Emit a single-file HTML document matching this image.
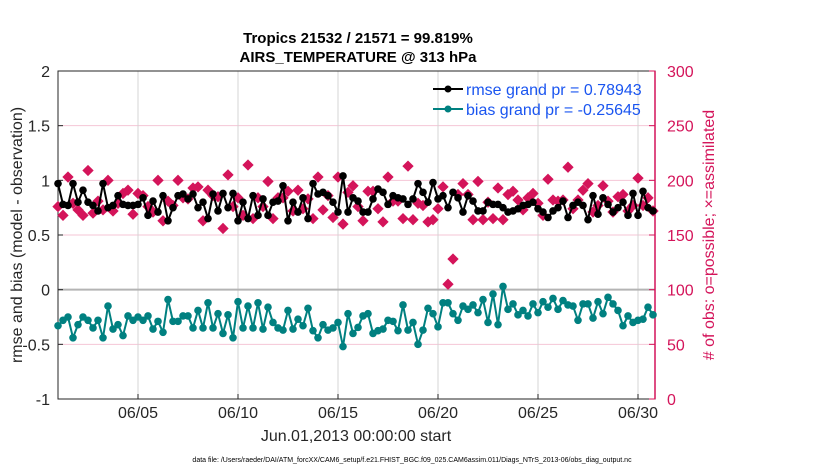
<!DOCTYPE html>
<html><head><meta charset="utf-8"><style>
body{margin:0;background:#fff;}
svg{display:block;font-family:"Liberation Sans",sans-serif;}
</style></head><body>
<svg id="chart" width="830" height="470">
<g id="grid"></g>
<g id="axes"></g>
<g id="series"></g>
<text x="358" y="43" text-anchor="middle" font-size="15" font-weight="bold">Tropics 21532 / 21571 = 99.819%</text>
<text x="358" y="62" text-anchor="middle" font-size="15" font-weight="bold">AIRS_TEMPERATURE @ 313 hPa</text>
<text x="356" y="441" text-anchor="middle" font-size="16" fill="#262626">Jun.01,2013 00:00:00 start</text>
<text transform="translate(22,235) rotate(-90)" text-anchor="middle" font-size="16" fill="#262626">rmse and bias (model - observation)</text>
<text transform="translate(714,235) rotate(-90)" text-anchor="middle" font-size="16" fill="#d4145a"># of obs: o=possible; ×=assimilated</text>
<text x="412" y="462" text-anchor="middle" font-size="7" fill="#000">data file: /Users/raeder/DAI/ATM_forcXX/CAM6_setup/f.e21.FHIST_BGC.f09_025.CAM6assim.011/Diags_NTrS_2013-06/obs_diag_output.nc</text>
<g>
<line x1="433" y1="89" x2="463" y2="89" stroke="#000" stroke-width="2"/><circle cx="448" cy="89" r="3.5" fill="#000"/>
<text x="466" y="95" font-size="16" fill="#1a55f0">rmse grand pr = 0.78943</text>
<line x1="433" y1="109" x2="463" y2="109" stroke="#008080" stroke-width="2"/><circle cx="448" cy="109" r="3.5" fill="#008080"/>
<text x="466" y="115" font-size="16" fill="#1a55f0">bias grand pr = -0.25645</text>
</g>
</svg>
<script>
const rmse=[.97,.78,.77,.97,.80,.91,.80,.77,.72,.97,.75,.77,.86,.78,.77,.77,.78,.84,.68,.81,.71,.86,.63,.75,.86,.875,.83,.875,.75,.80,.65,.875,.72,.88,.75,.88,.63,.80,.65,.86,.68,.83,.68,.80,.81,.95,.63,.80,.71,.84,.65,.97,.875,.89,.86,.80,.71,1.04,.71,.84,.81,.71,
.71,.83,.92,.89,.78,.86,.84,.83,.78,.83,.97,.89,.80,.98,.83,.86,.75,.89,.84,.71,.86,.81,.72,.72,.80,.78,.78,.75,.71,.72,.74,.77,.78,.80,.74,.71,.66,.72,.75,.81,.66,.77,.80,.77,.64,.86,.69,.84,.78,.71,.75,.80,.68,.88,.68,.90,.75,.72];
const bias=[-.33,-.28,-.25,-.44,-.32,-.25,-.28,-.35,-.28,-.44,-.15,-.36,-.32,-.42,-.24,-.28,-.25,-.28,-.24,-.36,-.29,-.39,-.09,-.29,-.29,-.24,-.24,-.35,-.19,-.35,-.12,-.35,-.22,-.40,-.23,-.44,-.11,-.35,-.15,-.35,-.12,-.36,-.16,-.30,-.35,-.37,-.19,-.36,-.27,-.33,-.17,-.375,-.44,-.32,-.37,-.35,-.30,-.52,-.22,-.40,-.345,-.24,
-.22,-.40,-.375,-.36,-.28,-.29,-.375,-.14,-.37,-.30,-.50,-.37,-.17,-.22,-.34,-.12,-.12,-.22,-.28,-.15,-.18,-.14,-.21,-.09,-.30,-.04,-.32,.03,-.18,-.13,-.23,-.19,-.24,-.13,-.21,-.11,-.16,-.08,-.18,-.10,-.14,-.15,-.28,-.13,-.13,-.26,-.11,-.22,-.07,-.13,-.19,-.33,-.24,-.30,-.28,-.27,-.16,-.23];
const counts=[176,168,203,179,173,168,209,170,181,173,200,172,179,188,191,169,188,186,176,171,200,163,181,177,200,184,183,193,194,163,191,186,185,156,205,176,184,168,214,165,184,176,199,165,184,184,190,172,191,174,183,165,203,173,186,166,203,160,189,195,176,163,
190,190,174,162,203,181,181,165,213,164,179,177,162,164,174,194,105,128,187,197,187,164,199,164,180,165,193,164,187,190,182,173,184,188,179,168,201,182,181,182,212,174,182,191,197,171,177,195,181,171,185,187,172,177,202,177,184,172];
const xTickDays=[4,9,14,19,24,29];
const xTickLabels=["06/05","06/10","06/15","06/20","06/25","06/30"];
const yTicks=[2,1.5,1,0.5,0,-0.5,-1];
const yTickLabels=["2","1.5","1","0.5","0","-0.5","-1"];
const rTicks=[300,250,200,150,100,50,0];
const stepDays=0.25;
const NS="http://www.w3.org/2000/svg";
const L=58,R=655,T=71,B=399;
const xs=d=>L+d*20;
const yl=v=>B-(v+1)/3*(B-T);
const yr=c=>B-c/300*(B-T);
function mk(p,tag,a){const e=document.createElementNS(NS,tag);for(const k in a)e.setAttribute(k,a[k]);p.appendChild(e);return e;}
const grid=document.getElementById('grid'),axes=document.getElementById('axes'),ser=document.getElementById('series');
rTicks.forEach(c=>{if(c>0&&c<300&&c!==100){const g=mk(grid,'line',{x1:L,x2:R,y1:yr(c),y2:yr(c),stroke:'#f5c6d6','stroke-width':1});

}});
xTickDays.forEach((d,i)=>{const g=mk(grid,'line',{x1:xs(d),x2:xs(d),y1:T,y2:B,stroke:'#d4d4d4','stroke-width':1});


const t=mk(axes,'text',{x:xs(d),y:418,'text-anchor':'middle','font-size':16,fill:'#262626'});t.textContent=xTickLabels[i];


mk(axes,'line',{x1:xs(d),x2:xs(d),y1:B,y2:B-5,stroke:'#262626'});});
const z=mk(grid,'line',{x1:L,x2:R,y1:yl(0),y2:yl(0),stroke:'#b4b4b4','stroke-width':2});


mk(axes,'rect',{x:L,y:T,width:R-L,height:B-T,fill:'none',stroke:'#262626','stroke-width':1});
mk(axes,'line',{x1:R,x2:R,y1:T,y2:B,stroke:'#d4145a','stroke-width':1.5});
yTicks.forEach((v,i)=>{mk(axes,'line',{x1:L,x2:L+5,y1:yl(v),y2:yl(v),stroke:'#262626'});
const t=mk(axes,'text',{x:L-8,y:yl(v)+6,'text-anchor':'end','font-size':16,fill:'#262626'});t.textContent=yTickLabels[i];

});
rTicks.forEach(c=>{mk(axes,'line',{x1:R,x2:R-6,y1:yr(c),y2:yr(c),stroke:'#d4145a'});
const t=mk(axes,'text',{x:R+12,y:yr(c)+6,'font-size':16,fill:'#d4145a'});t.textContent=String(c);

});
counts.forEach((c,i)=>{const x=xs(i*stepDays),y=yr(c);
const d=mk(ser,'rect',{x:x-4,y:y-4,width:8,height:8,fill:'#d4145a',transform:`rotate(45 ${x} ${y})`});

});
function line(arr,color,name){const p=mk(ser,'polyline',{points:arr.map((v,i)=>xs(i*stepDays)+','+yl(v)).join(' '),fill:'none',stroke:color,'stroke-width':2});


arr.forEach((v,i)=>{const c=mk(ser,'circle',{cx:xs(i*stepDays),cy:yl(v),r:3.8,fill:color});

});}
line(rmse,'#000','rmse');
line(bias,'#008080','bias');
</script>
</body></html>
